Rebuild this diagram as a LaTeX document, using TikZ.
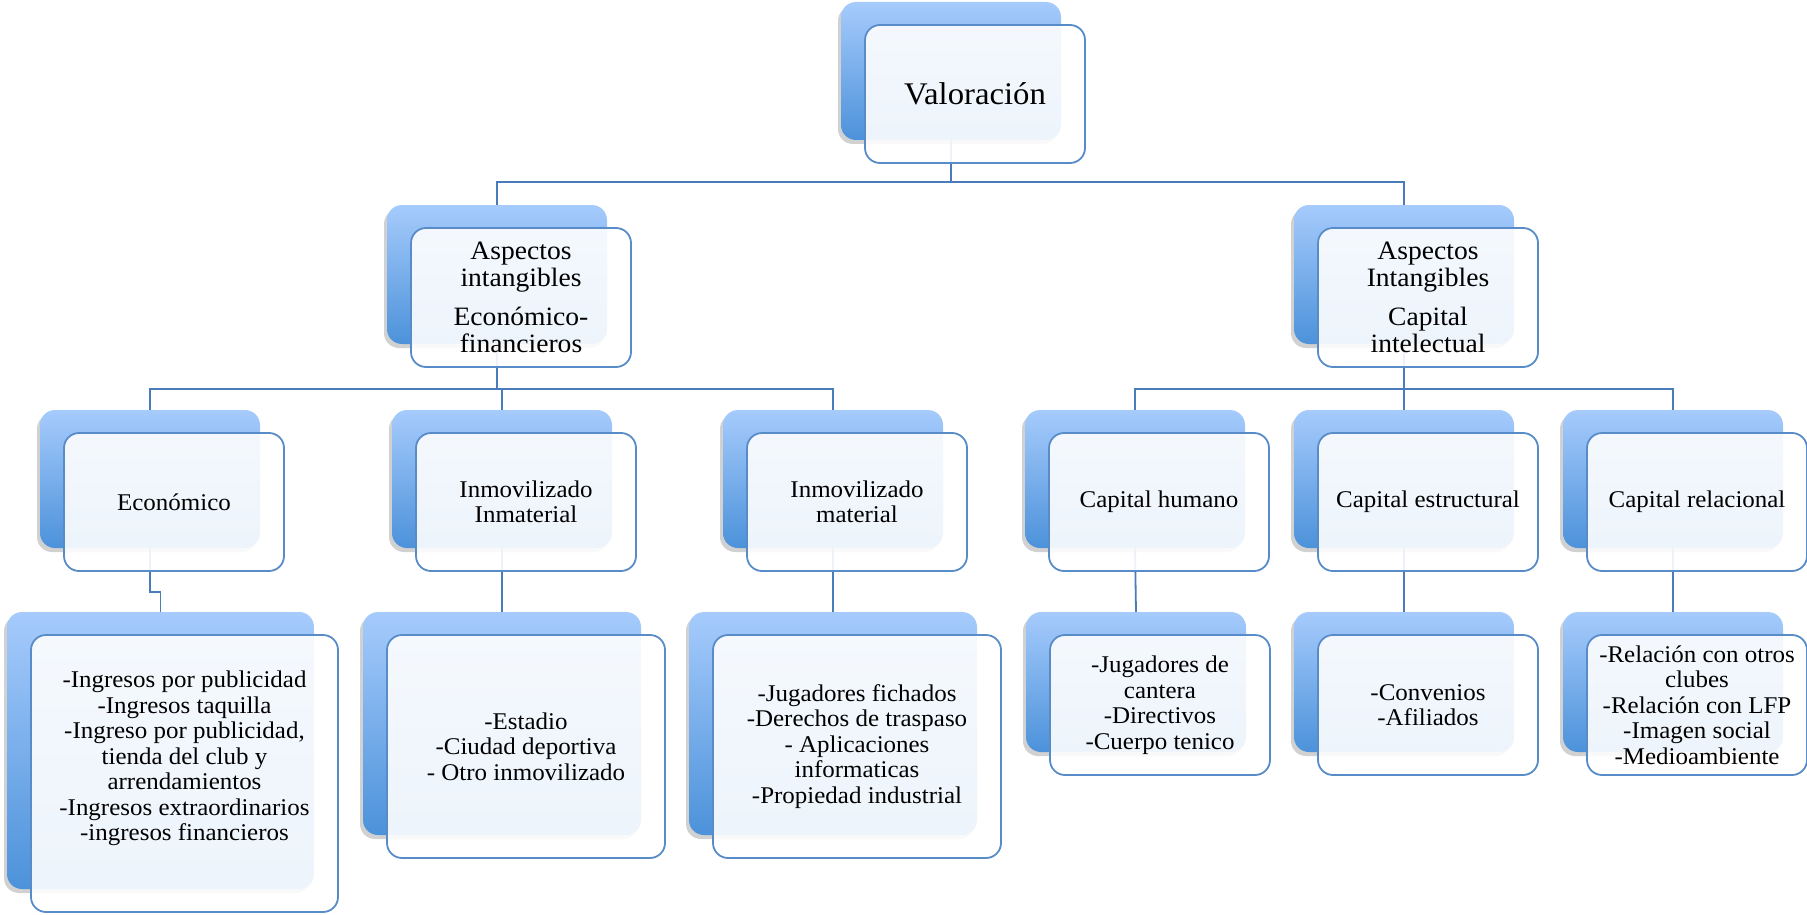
\documentclass[tikz,border=0pt]{standalone}
\usepackage{fontspec}
\setmainfont{Liberation Serif}[FakeStretch=1.04]
\usetikzlibrary{shadows}
\definecolor{bgtop}{RGB}{166,203,252}
\definecolor{bgbot}{RGB}{76,146,218}
\definecolor{edgeblue}{RGB}{88,140,200}
\definecolor{connblue}{RGB}{74,124,188}
\pgfdeclarelayer{bg}
\pgfdeclarelayer{mid}
\pgfsetlayers{bg,mid,main}
\tikzset{
  backbox/.style={rectangle, rounded corners=15pt, draw=none, top color=bgtop, bottom color=bgbot,
    drop shadow={shadow xshift=-3pt, shadow yshift=-4pt, opacity=0.18, fill=black}, inner sep=0pt},
  frontbox/.style={rectangle, rounded corners=15pt, draw=edgeblue, line width=1.8pt, fill=white,
    fill opacity=0.9, text opacity=1, inner sep=0pt, align=center, font=\bodyfont},
  conn/.style={draw=connblue, line width=1.8pt},
}
\newcommand\bodyfont{\fontsize{24}{25.5}\selectfont}
\newcommand\midfont{\fontsize{26.5}{27}\selectfont}
\newcommand\bigfont{\fontsize{31.5}{36}\selectfont}
% name, left, top, width, height, text, extra front style
\newcommand\pairbox[7]{%
  \begin{pgfonlayer}{bg}
    \node[backbox, minimum width=#4pt, minimum height=#5pt] (#1) at ({#2+#4/2},{#3+#5/2}) {};
  \end{pgfonlayer}
  \node[frontbox, minimum width=#4pt, minimum height=#5pt, #7] (#1f) at ([xshift=24pt,yshift=-23pt]#1.center) {#6};
}
\begin{document}
\begin{tikzpicture}[x=1pt,y=-1pt]
\useasboundingbox (0,0) rectangle (1807,915);

\pairbox{val}{841}{2}{220}{138}{Valoración}{font=\bigfont}
\pairbox{aiL}{387}{205}{220}{139}{Aspectos\\intangibles\\[12pt]Económico-\\financieros}{font=\midfont}
\pairbox{aiR}{1294}{205}{220}{139}{Aspectos\\Intangibles\\[12pt]Capital\\intelectual}{font=\midfont}

\pairbox{eco}{40}{410}{220}{138}{Económico}{}
\pairbox{inm}{392}{410}{220}{138}{Inmovilizado\\Inmaterial}{}
\pairbox{mat}{723}{410}{220}{138}{Inmovilizado\\material}{}
\pairbox{hum}{1025}{410}{220}{138}{Capital humano}{}
\pairbox{est}{1294}{410}{220}{138}{Capital estructural}{}
\pairbox{rel}{1563}{410}{220}{138}{Capital relacional}{}

\pairbox{ecoI}{7}{612}{307}{277}{-Ingresos por publicidad\\-Ingresos taquilla\\-Ingreso por publicidad,\\tienda del club y\\arrendamientos\\-Ingresos extraordinarios\\-ingresos financieros\\[10pt]}{}
\pairbox{inmI}{363}{612}{278}{223}{-Estadio\\-Ciudad deportiva\\- Otro inmovilizado}{}
\pairbox{matI}{689}{612}{288}{223}{-Jugadores fichados\\-Derechos de traspaso\\- Aplicaciones\\informaticas\\-Propiedad industrial}{}
\pairbox{humI}{1026}{612}{220}{140}{-Jugadores de\\cantera\\-Directivos\\-Cuerpo tenico}{}
\pairbox{estI}{1294}{612}{220}{140}{-Convenios\\-Afiliados}{}
\pairbox{relI}{1563}{612}{220}{140}{-Relación con otros\\clubes\\-Relación con LFP\\-Imagen social\\-Medioambiente}{}

\coordinate (bus1) at (0,182);
\coordinate (bus2) at (0,389);
\coordinate (jog) at (0,592);

\begin{pgfonlayer}{mid}
  \draw[conn] (val.south) -- (val.south |- bus1) -| (aiL.north);
  \draw[conn] (val.south |- bus1) -| (aiR.north);
  \draw[conn] (aiL.south) -- (aiL.south |- bus2) -| (eco.north);
  \draw[conn] (aiL.south |- bus2) -| (inm.north);
  \draw[conn] (aiL.south |- bus2) -| (mat.north);
  \draw[conn] (aiR.south) -- (aiR.south |- bus2) -| (hum.north);
  \draw[conn] (aiR.south |- bus2) -| (est.north);
  \draw[conn] (aiR.south |- bus2) -| (rel.north);
  \draw[conn] (eco.south) -- (eco.south |- jog) -| (ecoI.north);
  \draw[conn] (inm.south) -- (inmI.north);
  \draw[conn] (mat.south) -- (matI.north);
  \draw[conn] (hum.south) -- (humI.north);
  \draw[conn] (est.south) -- (estI.north);
  \draw[conn] (rel.south) -- (relI.north);
\end{pgfonlayer}
\end{tikzpicture}
\end{document}
